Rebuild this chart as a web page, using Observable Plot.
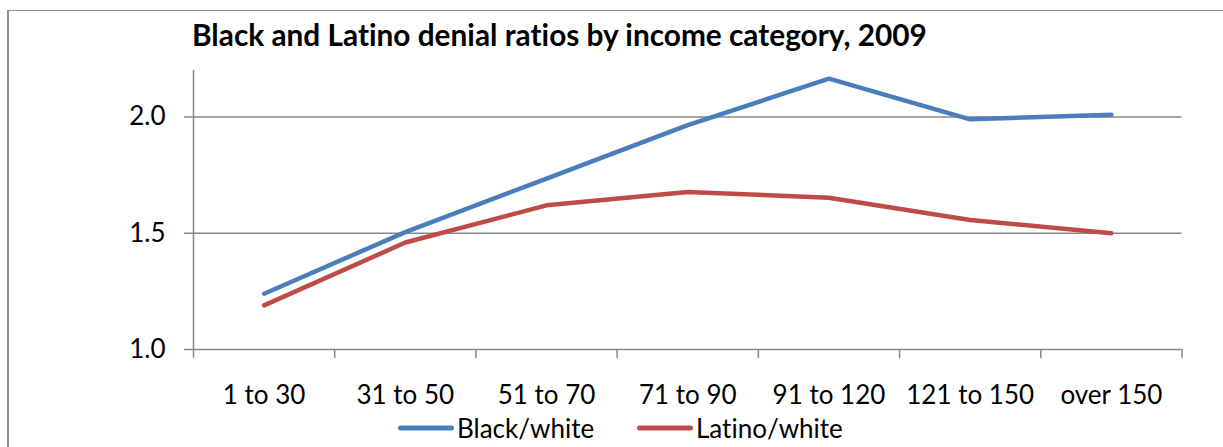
<!DOCTYPE html>
<html>
<head>
<meta charset="utf-8">
<script src="https://cdn.jsdelivr.net/npm/d3@7"></script>
<script src="https://cdn.jsdelivr.net/npm/@observablehq/plot@0.6"></script>
<style>
  html, body { margin: 0; padding: 0; background: #fff; }
  #chart { position: relative; width: 1223px; height: 447px; overflow: hidden; font-family: Lato, "Open Sans", sans-serif; font-variant-ligatures: none; }
  #chart svg text { font-variant-ligatures: none; }
  #frame { position: absolute; left: 7px; top: 10px; width: 1300px; height: 500px; border-left: 2px solid #8c8c8c; border-top: 1.5px solid #8c8c8c; box-sizing: border-box; }
  #title { position: absolute; left: 192px; top: 17.3px; font-weight: bold; font-size: 29.8px; line-height: 1.2; color: #000; white-space: nowrap; }
  #plot { position: absolute; left: 0; top: 0; }
  .legend-item { position: absolute; top: 412px; display: flex; align-items: center; font-size: 26px; color: #000; white-space: nowrap; }
  .legend-item svg { margin-right: 3px; }
</style>
</head>
<body>
<div id="chart">
  <div id="frame"></div>
  <div id="plot"></div>
  <div id="title">Black and Latino denial ratios by income category, 2009</div>
</div>
<script>
// Income categories (thousands of dollars) and denial ratios relative to white applicants
const categories = ["1 to 30", "31 to 50", "51 to 70", "71 to 90", "91 to 120", "121 to 150", "over 150"];
const blackWhite = [1.24, 1.505, 1.735, 1.965, 2.165, 1.99, 2.01];
const latinoWhite = [1.19, 1.46, 1.62, 1.677, 1.653, 1.557, 1.5];
const seriesNames = ["Black/white", "Latino/white"];
const seriesColors = ["#4A7EBB", "#BE4B48"];
const yTicks = [1.0, 1.5, 2.0];

// One row per category and series; x is the category's slot index (centre of its slot)
const rows = [];
[blackWhite, latinoWhite].forEach((vals, s) => {
  vals.forEach((v, i) => rows.push({series: seriesNames[s], slot: i + 0.5, value: v}));
});

const gridColor = "#888888";

const plot = Plot.plot({
  width: 1223,
  height: 447,
  marginLeft: 193,
  marginRight: 41.5,
  marginTop: 70,
  marginBottom: 98,
  style: {fontFamily: "Lato, 'Open Sans', sans-serif", fontSize: "26px", color: "#000", background: "transparent", overflow: "visible"},
  x: {type: "linear", domain: [0, categories.length]},
  y: {domain: [1, 2.2]},
  color: {domain: seriesNames, range: seriesColors},
  marks: [
    // horizontal gridlines
    Plot.ruleY(yTicks.slice(1), {stroke: gridColor, strokeWidth: 1.5}),
    // axis lines
    Plot.ruleY([1], {stroke: gridColor, strokeWidth: 1.5}),
    Plot.ruleX([0], {y1: 1, y2: 2.2, stroke: gridColor, strokeWidth: 1.5}),
    // y axis
    Plot.axisY({ticks: yTicks, tickFormat: d3.format(".1f"), tickSize: 9, tickPadding: 19, stroke: gridColor, strokeWidth: 1.5, fill: "#000", label: null}),
    // x axis: tick marks at slot boundaries, labels at slot centres
    Plot.axisX({ticks: d3.range(categories.length + 1), tickSize: 9, stroke: gridColor, strokeWidth: 1.5, tickFormat: () => "", label: null}),
    Plot.axisX({ticks: categories.map((c, i) => i + 0.5), tickSize: 0, tickPadding: 36, tickFormat: d => categories[Math.floor(d)], fill: "#000", label: null}),
    // series lines
    Plot.line(rows, {x: "slot", y: "value", z: "series", stroke: "series", strokeWidth: 4.5, strokeLinecap: "round", strokeLinejoin: "round"})
  ]
});
document.getElementById("plot").appendChild(plot);

// Legend below the x axis
const legendLeft = [398, 637];
seriesNames.forEach((name, i) => {
  const item = document.createElement("div");
  item.className = "legend-item";
  item.style.left = legendLeft[i] + "px";
  item.innerHTML = `<svg width="56" height="10"><line x1="2.5" y1="5" x2="53.5" y2="5" stroke="${seriesColors[i]}" stroke-width="5" stroke-linecap="round"/></svg><span>${name}</span>`;
  document.getElementById("chart").appendChild(item);
});
</script>
</body>
</html>
